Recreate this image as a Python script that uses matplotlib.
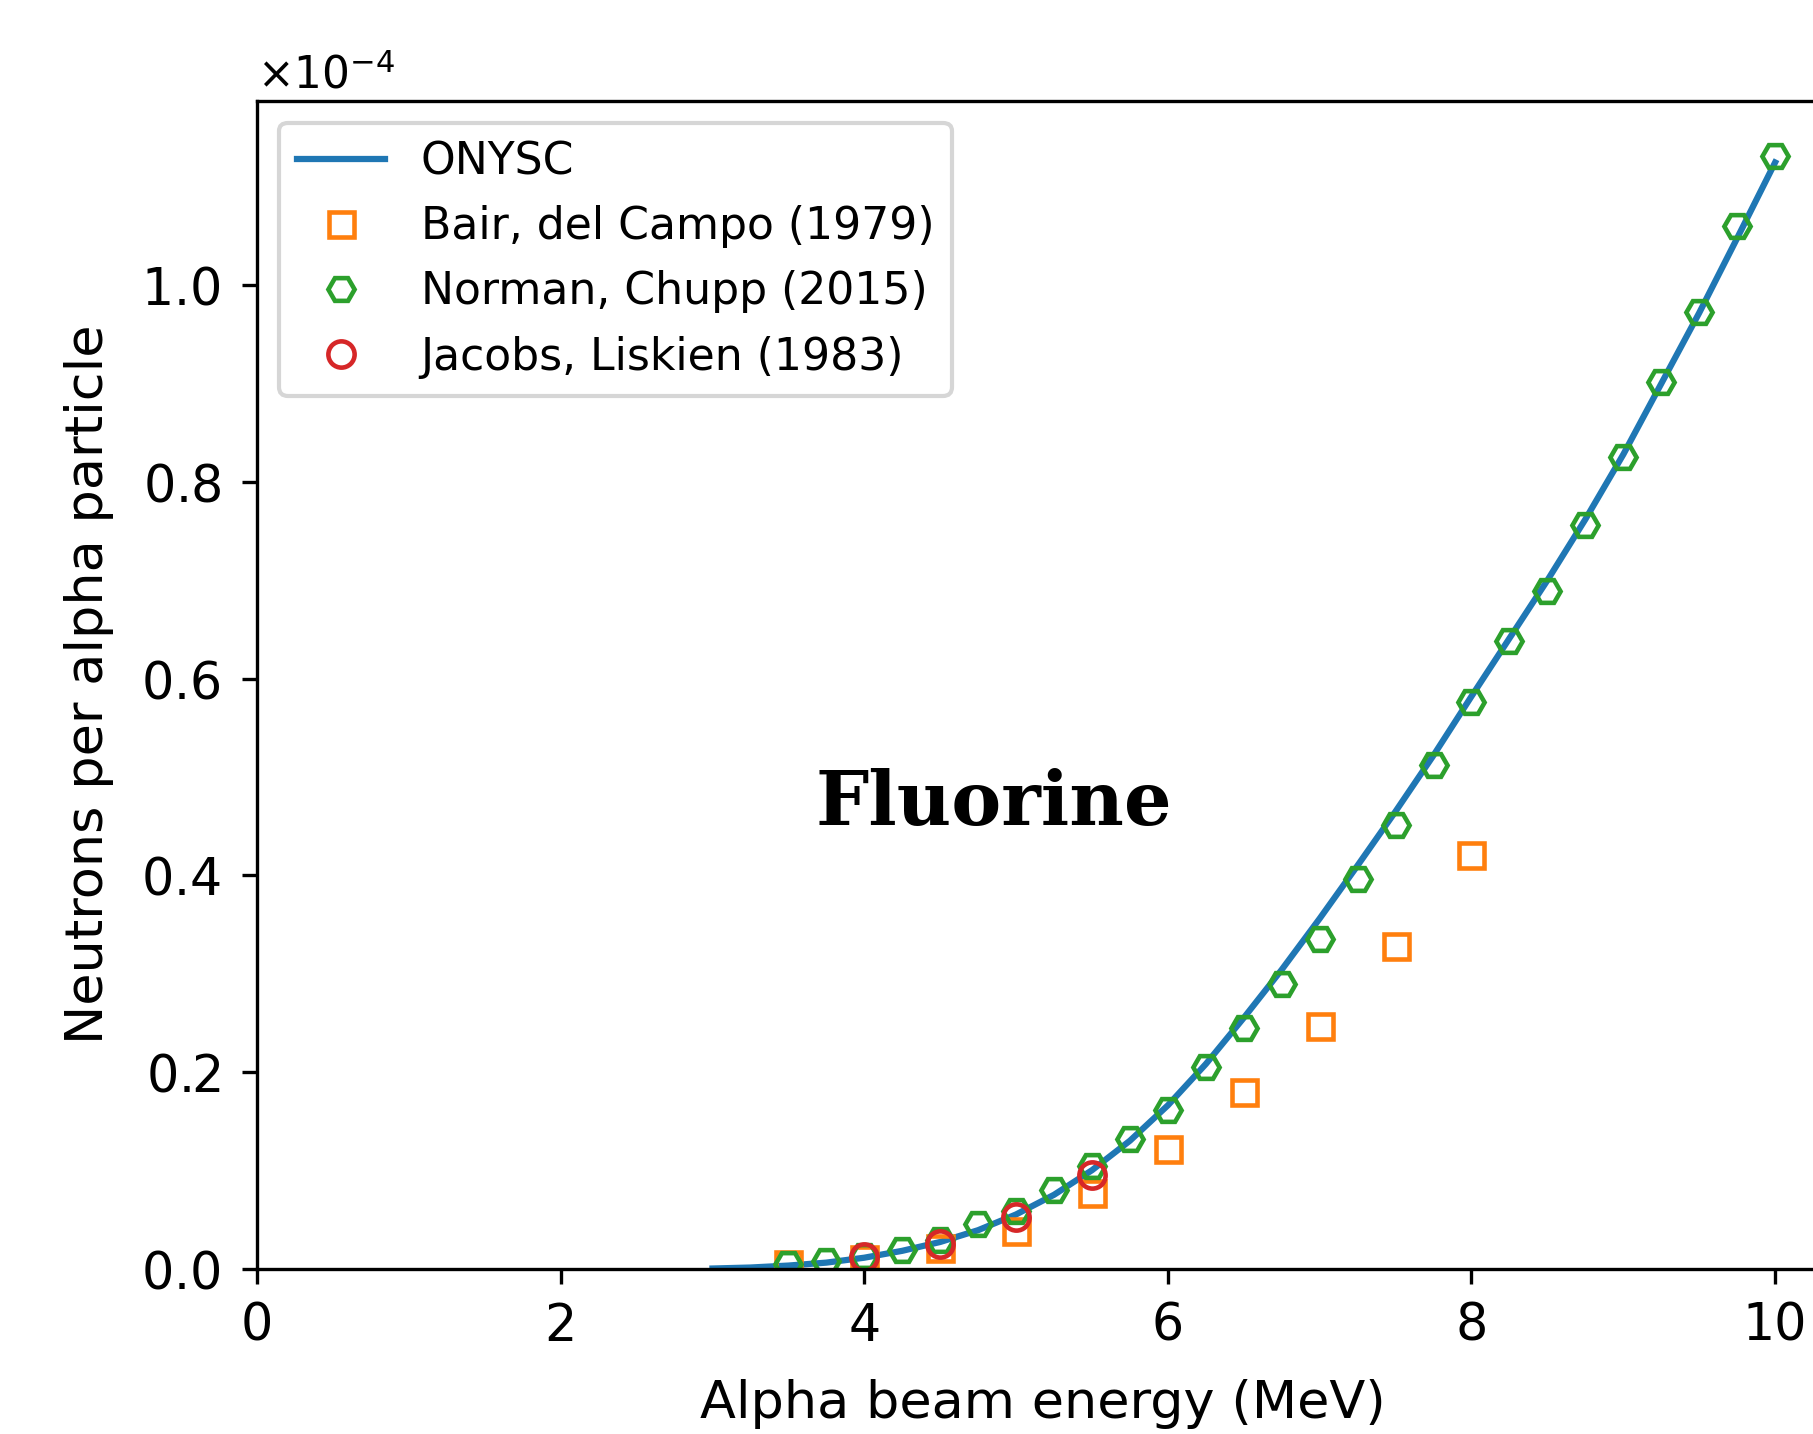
"""Neutron yield per alpha particle on fluorine: ONYSC vs measurements."""

import matplotlib

matplotlib.use("Agg")
import matplotlib.pyplot as plt

# ONYSC calculation (units of 1e-4 neutrons per alpha)
onysc_e = [3.0, 3.25, 3.5, 3.75, 4.0, 4.25, 4.5, 4.75, 5.0, 5.25, 5.5, 5.75,
           6.0, 6.25, 6.5, 6.75, 7.0, 7.25, 7.5, 7.75, 8.0, 8.25, 8.5, 8.75,
           9.0, 9.25, 9.5, 9.75, 10.0]
onysc_y = [0.000, 0.001, 0.003, 0.006, 0.011, 0.018, 0.027, 0.039, 0.055,
           0.075, 0.100, 0.130, 0.166, 0.208, 0.255, 0.304, 0.356, 0.410,
           0.465, 0.522, 0.582, 0.641, 0.700, 0.762, 0.828, 0.900, 0.972,
           1.048, 1.125]

# Bair, del Campo (1979)
bair_e = [3.5, 4.0, 4.5, 5.0, 5.5, 6.0, 6.5, 7.0, 7.5, 8.0]
bair_y = [0.005, 0.010, 0.021, 0.038, 0.077, 0.122, 0.180, 0.247, 0.328, 0.421]

# Norman, Chupp (2015)
norman_e = [3.5, 3.75, 4.0, 4.25, 4.5, 4.75, 5.0, 5.25, 5.5, 5.75, 6.0, 6.25,
            6.5, 6.75, 7.0, 7.25, 7.5, 7.75, 8.0, 8.25, 8.5, 8.75, 9.0, 9.25,
            9.5, 9.75, 10.0]
norman_y = [0.005, 0.008, 0.013, 0.019, 0.029, 0.045, 0.059, 0.080, 0.104,
            0.132, 0.161, 0.205, 0.245, 0.289, 0.335, 0.396, 0.451, 0.512,
            0.576, 0.638, 0.689, 0.756, 0.825, 0.902, 0.973, 1.060, 1.132]

# Jacobs, Liskien (1983)
jacobs_e = [4.0, 4.5, 5.0, 5.5]
jacobs_y = [0.012, 0.025, 0.052, 0.095]

SCALE = 1e-4


def scaled(vals):
    return [v * SCALE for v in vals]


fig = plt.figure(figsize=(1813 / 300, 1434 / 300), dpi=300)
# the axes run slightly past the right edge of the figure, as in the source image
ax = fig.add_axes([0.1418, 0.1154, 0.8666, 0.8145])

ax.plot(onysc_e, scaled(onysc_y), color="C0", lw=1.5, label="ONYSC")
ax.plot(bair_e, scaled(bair_y), "s", color="C1", mfc="none", ms=6, mew=1.1,
        label="Bair, del Campo (1979)")
ax.plot(norman_e, scaled(norman_y), "H", color="C2", mfc="none", ms=6.3, mew=1.1,
        label="Norman, Chupp (2015)")
ax.plot(jacobs_e, scaled(jacobs_y), "o", color="C3", mfc="none", ms=6.3, mew=1.1,
        label="Jacobs, Liskien (1983)")

ax.set_xlim(0, 10.35)
ax.set_ylim(0, 1.188 * SCALE)
ax.set_xticks([0, 2, 4, 6, 8, 10])
ax.set_yticks(scaled([0.0, 0.2, 0.4, 0.6, 0.8, 1.0]))
ax.ticklabel_format(axis="y", style="sci", scilimits=(0, 0), useMathText=True)
ax.tick_params(labelsize=12.2)
ax.tick_params(axis="y", pad=5.2)
ax.tick_params(axis="x", pad=4.5)
ax.yaxis.get_offset_text().set_fontsize(10.5)

ax.set_xlabel("Alpha beam energy (MeV)", fontsize=12.6, labelpad=6.5)
ax.set_ylabel("Neutrons per alpha particle", fontsize=12.6, labelpad=6.5)

ax.text(3.68, 0.451 * SCALE, "Fluorine", family="DejaVu Serif",
        fontweight="bold", fontsize=18, ha="left", va="baseline")

ax.legend(loc="upper left", fontsize=10.6)

fig.savefig("out.png", dpi=300)
